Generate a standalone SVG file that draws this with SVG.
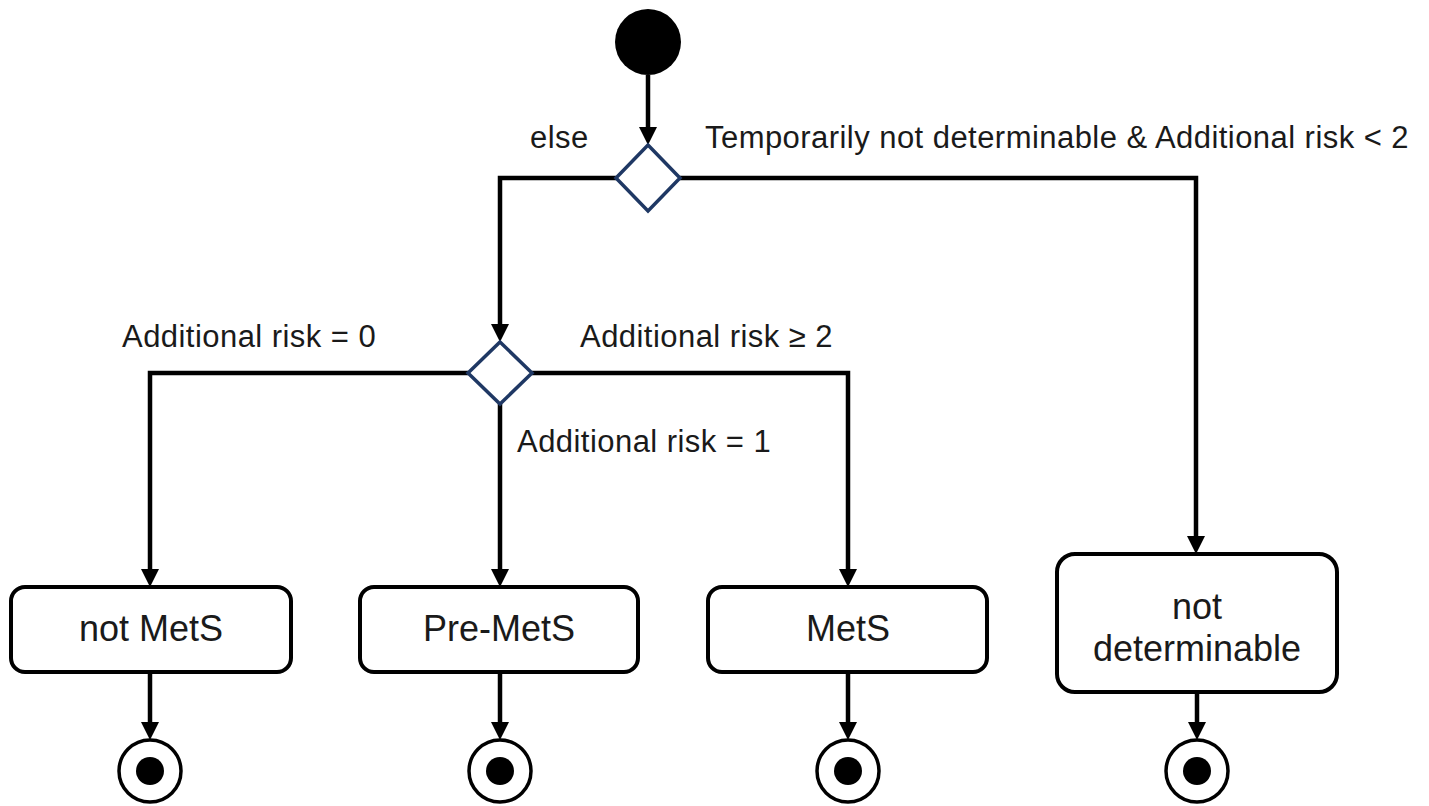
<svg xmlns="http://www.w3.org/2000/svg" width="1429" height="806" viewBox="0 0 1429 806">
<defs>
<marker id="arr" markerUnits="userSpaceOnUse" markerWidth="18" markerHeight="18" viewBox="0 0 18 18" refX="0" refY="9" orient="auto">
<path d="M0,0 L18,9 L0,18 z" fill="#000"/>
</marker>
<style>
.edge{fill:none;stroke:#000;stroke-width:4.5;marker-end:url(#arr)}
.box{fill:#fff;stroke:#000;stroke-width:4}
.dec{fill:#fff;stroke:#1f3864;stroke-width:3.5}
.lbl{font-family:"Liberation Sans",Arial,sans-serif;font-size:31px;fill:#1a1a1a;letter-spacing:0.45px}
.nlbl{font-family:"Liberation Sans",Arial,sans-serif;font-size:36px;fill:#1a1a1a;text-anchor:middle}
.endo{fill:#fff;stroke:#000;stroke-width:3.5}
</style>
</defs>
<rect width="1429" height="806" fill="#fff"/>
<g id="connectors">
<path class="edge" d="M648,75 V127"/>
<path class="edge" d="M616,178 H500 V324"/>
<path class="edge" d="M680,178 H1196 V536"/>
<path class="edge" d="M468,373 H150 V569"/>
<path class="edge" d="M500,404 V569"/>
<path class="edge" d="M532,373 H848 V569"/>
<path class="edge" d="M150,672 V722"/>
<path class="edge" d="M500,672 V722"/>
<path class="edge" d="M848,672 V722"/>
<path class="edge" d="M1197,692 V722"/>
</g>
<g id="labels">
<text class="lbl" x="530" y="148">else</text>
<text class="lbl" x="705" y="148">Temporarily not determinable &amp; Additional risk &lt; 2</text>
<text class="lbl" x="122" y="347">Additional risk = 0</text>
<text class="lbl" x="580" y="347">Additional risk ≥ 2</text>
<text class="lbl" x="517" y="452">Additional risk = 1</text>
</g>
<g id="start"><circle cx="648" cy="42" r="33" fill="#000"/></g>
<g id="decision1"><polygon class="dec" points="648,145 680,178 648,211 616,178"/></g>
<g id="decision2"><polygon class="dec" points="500,342 532,373 500,404 468,373"/></g>
<g id="notMetS"><rect class="box" x="11" y="587" width="280" height="85" rx="14"/><text class="nlbl" x="151" y="641">not MetS</text></g>
<g id="preMetS"><rect class="box" x="360" y="587" width="278" height="85" rx="14"/><text class="nlbl" x="499" y="641">Pre-MetS</text></g>
<g id="MetS"><rect class="box" x="708" y="587" width="279" height="85" rx="14"/><text class="nlbl" x="848" y="641">MetS</text></g>
<g id="notDeterminable"><rect class="box" x="1057" y="554" width="280" height="138" rx="18"/><text class="nlbl" x="1197" y="619">not</text><text class="nlbl" x="1197" y="661">determinable</text></g>
<g id="end1"><circle class="endo" cx="150" cy="771" r="31"/><circle cx="150" cy="771" r="14" fill="#000"/></g>
<g id="end2"><circle class="endo" cx="500" cy="771" r="31"/><circle cx="500" cy="771" r="14" fill="#000"/></g>
<g id="end3"><circle class="endo" cx="848" cy="771" r="31"/><circle cx="848" cy="771" r="14" fill="#000"/></g>
<g id="end4"><circle class="endo" cx="1197" cy="771" r="31"/><circle cx="1197" cy="771" r="14" fill="#000"/></g>
</svg>
